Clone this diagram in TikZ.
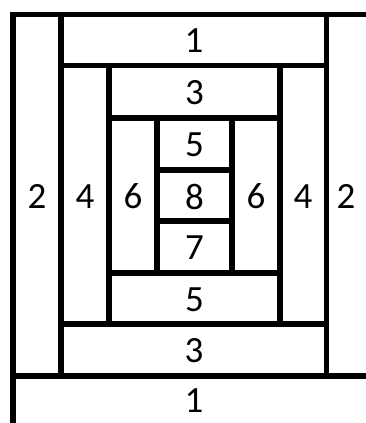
\documentclass[tikz,border=0pt]{standalone}
\usepackage{fontspec}
\setmainfont{Carlito}
\begin{document}
\begin{tikzpicture}[x=1pt,y=-1pt,
  wall/.style={line width=5.5pt,line cap=rect,black},
  lbl/.style={font=\fontsize{37}{44}\selectfont,inner sep=0pt,anchor=center}]
\useasboundingbox (0,0) rectangle (366,423);
% outer
\draw[wall] (13,14.5) -- (366,14.5);
\draw[wall] (13,14.5) -- (13,423);
\draw[wall] (13,376) -- (366,376);
\draw[wall] (61,14.5) -- (61,376);
\draw[wall] (326.5,14.5) -- (326.5,376);
\draw[wall] (61,65.5) -- (326.5,65.5);
\draw[wall] (61,324) -- (326.5,324);
\draw[wall] (109,65.5) -- (109,324);
\draw[wall] (280,65.5) -- (280,324);
\draw[wall] (109,118) -- (280,118);
\draw[wall] (109,273) -- (280,273);
\draw[wall] (157,118) -- (157,273);
\draw[wall] (232,118) -- (232,273);
\draw[wall] (157,170) -- (232,170);
\draw[wall] (157,221) -- (232,221);
% labels
\node[lbl] (t1) at (194,41) {1};
\node[lbl] (t3) at (194.5,93) {3};
\node[lbl] (t5) at (194.5,145) {5};
\node[lbl] (t8) at (194.5,196.5) {8};
\node[lbl] (t7) at (194.5,248) {7};
\node[lbl] (b5) at (194.5,299.5) {5};
\node[lbl] (b3) at (194,351) {3};
\node[lbl] (b1) at (194,401) {1};
\node[lbl] (l2) at (37,196.5) {2};
\node[lbl] (l4) at (85,196.5) {4};
\node[lbl] (l6) at (133,196.5) {6};
\node[lbl] (r6) at (256,196.5) {6};
\node[lbl] (r4) at (303,196.5) {4};
\node[lbl] (r2) at (346,196.5) {2};
\end{tikzpicture}
\end{document}
